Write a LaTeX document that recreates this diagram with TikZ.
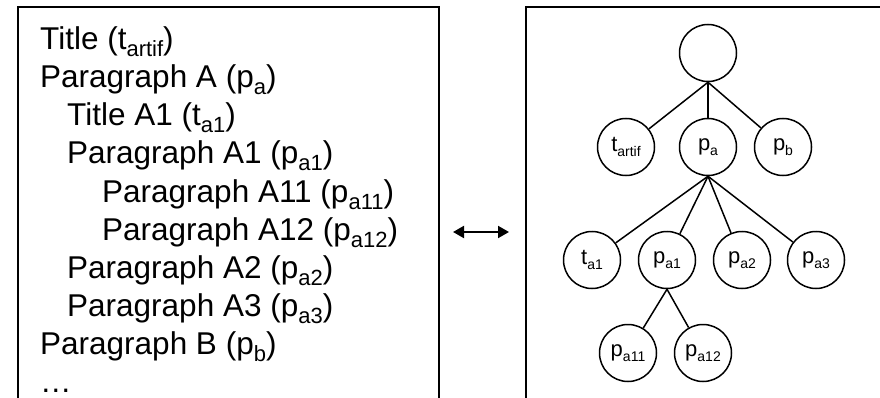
\documentclass[tikz,border=0pt]{standalone}
\usepackage{fontspec}
\setmainfont{Liberation Sans}
\usetikzlibrary{arrows.meta}

% subscripts for the outline text and for the tree labels
\newcommand\Ls[1]{\raisebox{-7pt}{\fontsize{22}{22}\selectfont #1}}
\newcommand\Cs[1]{\raisebox{-4.5pt}{\fontsize{14}{14}\selectfont #1}}

\tikzset{
  frame/.style={line width=2pt, line cap=rect},
  outline/.style={anchor=base west, inner sep=0pt,
    font=\fontsize{31.5}{37}\selectfont},
  tn/.style={circle, draw, line width=1.5pt, minimum size=57pt, inner sep=0pt,
    font=\fontsize{22}{26}\selectfont},
  edge/.style={line width=1.5pt},
  swap/.style={line width=2pt, {Triangle[length=11pt,width=12pt]}-{Triangle[length=11pt,width=12pt]}}
}

\begin{document}
\begin{tikzpicture}[x=1pt,y=-1pt]
\useasboundingbox[fill=white] (0,0) rectangle (880,398);

% the two panels, both running past the lower edge
\draw[frame] (18,404) -- (18,7) -- (439,7) -- (439,404);
\draw[frame] (526,404) -- (526,7) -- (886,7);

% document outline
\node[outline] (l1)  at (40,50)  {Title (t\Ls{artif})};
\node[outline] (l2)  at (40,88)  {Paragraph A (p\Ls{a})};
\node[outline] (l3)  at (67,126) {Title A1 (t\Ls{a1})};
\node[outline] (l4)  at (67,164) {Paragraph A1 (p\Ls{a1})};
\node[outline] (l5)  at (102,202) {Paragraph A11 (p\Ls{a11})};
\node[outline] (l6)  at (102,240) {Paragraph A12 (p\Ls{a12})};
\node[outline] (l7)  at (67,278) {Paragraph A2 (p\Ls{a2})};
\node[outline] (l8)  at (67,316) {Paragraph A3 (p\Ls{a3})};
\node[outline] (l9)  at (40,354) {Paragraph B (p\Ls{b})};
\node[outline] (l10) at (40,392) {…};

% correspondence arrow
\coordinate (al) at (453,232);
\coordinate (ar) at (509,232);
\draw[swap] (al) -- (ar);

% tree
\node[tn] (root)  at (708,53)  {};
\node[tn] (tartif) at (626,147) {t\Cs{artif}};
\node[tn] (pa)    at (708,147) {p\Cs{a}};
\node[tn] (pb)    at (783,147) {p\Cs{b}};
\node[tn] (ta1)   at (592,260) {t\Cs{a1}};
\node[tn] (pa1)   at (667,260) {p\Cs{a1}};
\node[tn] (pa2)   at (742,260) {p\Cs{a2}};
\node[tn] (pa3)   at (816,260) {p\Cs{a3}};
\node[tn] (pa11)  at (628,353) {p\Cs{a11}};
\node[tn] (pa12)  at (703,353) {p\Cs{a12}};

\foreach \c in {tartif,pa,pb} \draw[edge] (root.south) -- (\c);
\foreach \c in {ta1,pa1,pa2,pa3} \draw[edge] (pa.south) -- (\c);
\foreach \c in {pa11,pa12} \draw[edge] (pa1.south) -- (\c);
\end{tikzpicture}
\end{document}
